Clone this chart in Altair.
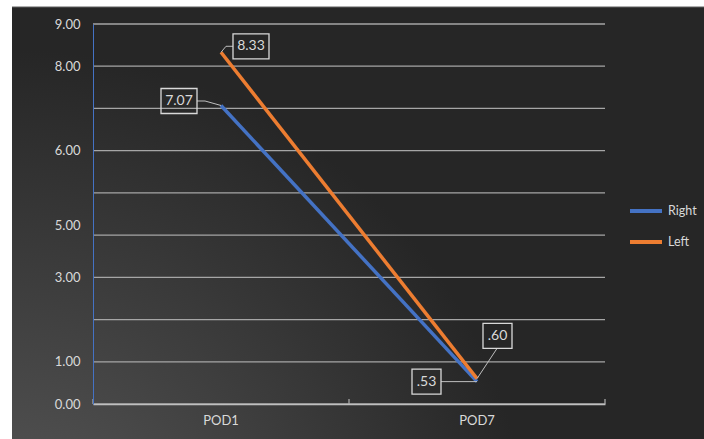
import altair as alt
import pandas as pd

# ---------------- data ----------------
categories = ["POD1", "POD7"]
series_names = ["Right", "Left"]
right_values = [7.07, 0.53]
left_values = [8.33, 0.60]
right_labels = ["7.07", ".53"]
left_labels = ["8.33", ".60"]
y_grid_values = [0, 1, 2, 3, 4, 5, 6, 7, 8, 9]
y_tick_text = {9: "9.00", 8: "8.00", 6: "6.00", 4: "5.00", 3: "3.00", 1: "1.00", 0: "0.00"}

rows = []
for s, vals, labs in [("Right", right_values, right_labels), ("Left", left_values, left_labels)]:
    for c, v, l in zip(categories, vals, labs):
        rows.append({"cat": c, "series": s, "value": v, "label": l})
df = pd.DataFrame(rows)
grid_df = pd.DataFrame({"g": y_grid_values})

# ---------------- style ----------------
W, H = 512, 380
PAD = {"left": 93, "top": 24, "right": 99, "bottom": 35}
FONT = "Lato"
TXT = "#d9d9d9"
GRID = "#a6a6a6"
BLUE = "#4472C4"
ORANGE = "#ED7D31"

label_style = {
    ("Left", "POD1"): dict(dx=30, dy=-6, w=36, h=25, leader=[(0, 0), (5, -6), (12, -6)]),
    ("Right", "POD1"): dict(dx=-42, dy=-4.5, w=36, h=25, leader=[(0, 0), (-16, -4.5), (-24, -4.5)]),
    ("Right", "POD7"): dict(dx=-50.5, dy=0, w=29, h=25, leader=[(0, 0), (-36, 0)]),
    ("Left", "POD7"): dict(dx=20.5, dy=-42.7, w=29, h=25, leader=[(0, 0), (20, -30.2)]),
}

xscale = alt.Scale(domain=categories, paddingInner=0, paddingOuter=0)
yscale = alt.Scale(domain=[0, 9], nice=False, zero=True)

label_expr = " : ".join(
    [f"datum.value == {k} ? '{v}'" for k, v in y_tick_text.items()]
) + " : ''"

x_axis = alt.Axis(
    labelAngle=0, ticks=False, grid=False, domainColor="#bfbfbf", domainWidth=1.5,
    labelPadding=10, labelColor=TXT, labelFont=FONT, labelFontSize=13, zindex=1,
)
y_axis = alt.Axis(
    values=y_grid_values, labelExpr=label_expr, grid=False, ticks=False,
    domainColor=BLUE, domainWidth=1, labelPadding=13, labelColor=TXT,
    labelFont=FONT, labelFontSize=13, zindex=1,
    labelOffset={"condition": {"test": "datum.value == 4", "value": -10}, "value": 0},
)


def X(field="cat:N", **kw):
    return alt.X(field, scale=xscale, sort=categories, title=None, axis=x_axis, **kw)


def Y(field="value:Q"):
    return alt.Y(field, scale=yscale, title=None, axis=y_axis)


base = alt.Chart(df)

bg = alt.Chart(pd.DataFrame({"a": [0]})).mark_rect(
    fill={
        "gradient": "radial",
        "x1": 0, "y1": 1, "r1": 0,
        "x2": 0, "y2": 1, "r2": 0.75,
        "stops": [
            {"offset": 0, "color": "#5a5a5a"},
            {"offset": 1, "color": "#262626"},
        ],
    }
).encode(
    x=alt.value(12 - PAD["left"]),
    x2=alt.value(704 - PAD["left"]),
    y=alt.value(7 - PAD["top"]),
    y2=alt.value(439 - PAD["top"]),
)

top_edge = alt.Chart(pd.DataFrame({"a": [0]})).mark_rule(color="#5f5f5f", strokeWidth=1).encode(
    x=alt.value(12 - PAD["left"]),
    x2=alt.value(704 - PAD["left"]),
    y=alt.value(7 - PAD["top"]),
)

grid = alt.Chart(grid_df).mark_rule(color=GRID, strokeWidth=1.3).encode(
    y=Y("g:Q"),
    x=alt.value(0),
    x2=alt.value(W),
)

tick_df = pd.DataFrame({"cat": categories})
xticks_a = alt.Chart(tick_df).mark_rule(color=GRID, strokeWidth=1.3).encode(
    x=X(bandPosition=0),
    y=alt.value(H - 5),
    y2=alt.value(H),
)
xticks_b = alt.Chart(tick_df[tick_df.cat == categories[-1]]).mark_rule(color=GRID, strokeWidth=1.3).encode(
    x=X(bandPosition=1),
    y=alt.value(H - 5),
    y2=alt.value(H),
)

lines = base.mark_line(strokeWidth=3.5).encode(
    x=X(),
    y=Y(),
    color=alt.Color(
        "series:N",
        scale=alt.Scale(domain=series_names, range=[BLUE, ORANGE]),
        title=None,
        legend=alt.Legend(
            orient="none", legendX=535, legendY=169, symbolType="stroke",
            symbolSize=1024, symbolStrokeWidth=4, rowPadding=5, padding=0,
            labelColor=TXT, labelFont=FONT, labelFontSize=12.5, labelOffset=4,
        ),
    ),
    order=alt.Order("cat:N"),
)

ann_layers = []
for (s, c), st in label_style.items():
    sub = base.transform_filter(
        (alt.datum.series == s) & (alt.datum.cat == c)
    )
    pts = st["leader"]
    for (ax, ay), (bx, by) in zip(pts[:-1], pts[1:]):
        ann_layers.append(
            sub.mark_rule(color="#bfbfbf", strokeWidth=1,
                          xOffset=ax, yOffset=ay, x2Offset=bx, y2Offset=by).encode(
                x=X(), y=Y(), x2="cat:N", y2="value:Q")
        )
    r = st["h"] / st["w"]
    shape = f"M-1,{-r:.4f} L1,{-r:.4f} L1,{r:.4f} L-1,{r:.4f} Z"
    ann_layers.append(
        sub.mark_point(shape=shape, size=st["w"] ** 2, filled=False, stroke=TXT,
                       strokeWidth=1.3, opacity=1, xOffset=st["dx"], yOffset=st["dy"]).encode(x=X(), y=Y())
    )
    ann_layers.append(
        sub.mark_text(font=FONT, fontSize=14, color=TXT, align="center", baseline="middle",
                      dx=st["dx"], dy=st["dy"]).encode(text="label:N", x=X(), y=Y())
    )

chart = alt.layer(bg, top_edge, grid, xticks_a, xticks_b, lines, *ann_layers).properties(
    width=W, height=H, padding=PAD, autosize=alt.AutoSizeParams(type="none"),
    background="white",
).configure_view(strokeWidth=0)

chart.save("out.html", embed_options={"renderer": "svg", "actions": False})
